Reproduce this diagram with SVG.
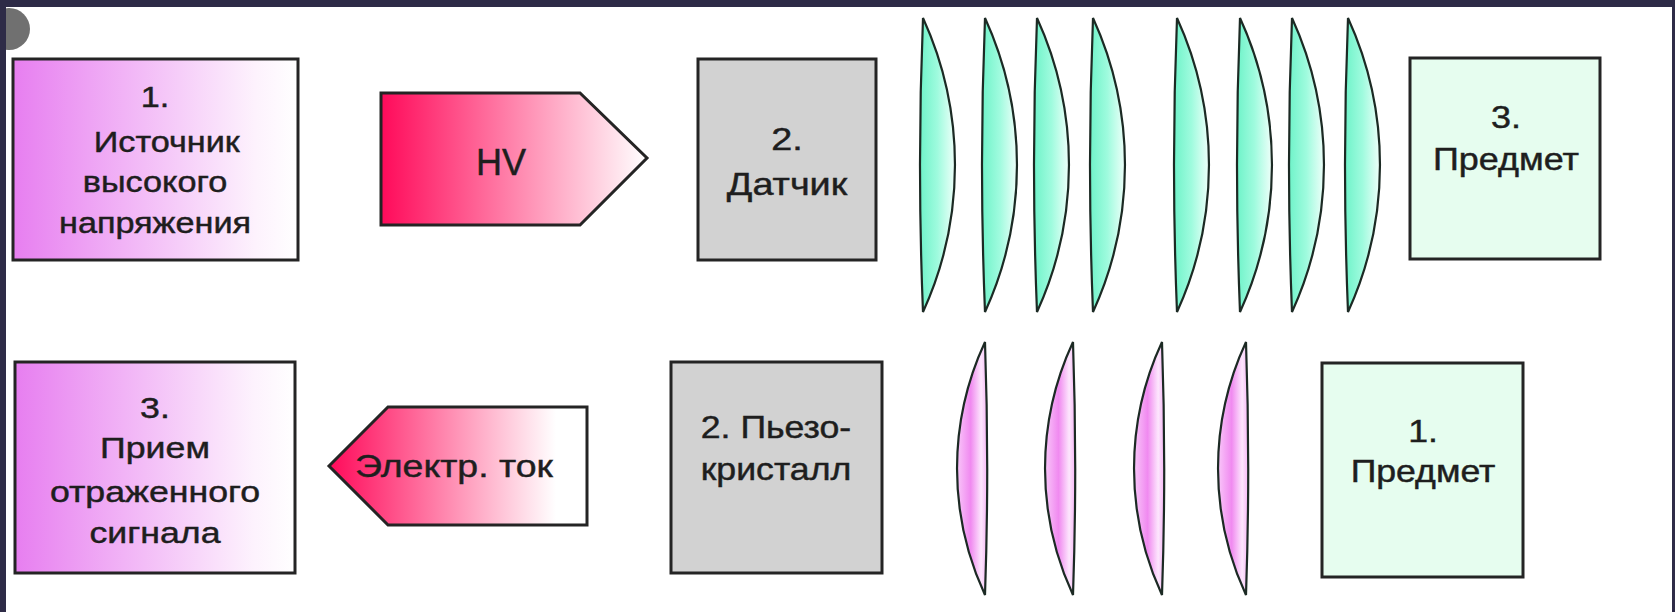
<svg xmlns="http://www.w3.org/2000/svg" xmlns:xlink="http://www.w3.org/1999/xlink" width="1675" height="612" viewBox="0 0 1675 612">
  <style>
    .box { stroke: #242424; stroke-width: 3; }
    .grey { fill: #d2d2d2; }
    .mint { fill: #e6fdef; }
    .lbl { font-family: "Liberation Sans", Arial, Helvetica, sans-serif; fill: #1e1e1e; stroke: #1e1e1e; stroke-width: 0.45; text-anchor: middle; }
    .wave { stroke: #1c2a24; stroke-width: 2.2; }
  </style>
  <defs>
    <linearGradient id="gViolet" x1="0" y1="0" x2="1" y2="0">
      <stop offset="0" stop-color="#e77ef0"/>
      <stop offset="0.85" stop-color="#fdf2fd"/>
      <stop offset="1" stop-color="#ffffff"/>
    </linearGradient>
    <linearGradient id="gCrimsonR" x1="0" y1="0" x2="1" y2="0">
      <stop offset="0" stop-color="#ff0a5a"/>
      <stop offset="1" stop-color="#ffffff"/>
    </linearGradient>
    <linearGradient id="gCrimsonL" x1="0" y1="0" x2="1" y2="0">
      <stop offset="0" stop-color="#ff0a5a"/>
      <stop offset="0.88" stop-color="#ffffff"/>
      <stop offset="1" stop-color="#ffffff"/>
    </linearGradient>
    <linearGradient id="gAqua" x1="0" y1="0" x2="1" y2="0">
      <stop offset="0" stop-color="#6ff3c9"/>
      <stop offset="0.5" stop-color="#9ffbde"/>
      <stop offset="1" stop-color="#effffa"/>
    </linearGradient>
    <linearGradient id="gPink" x1="0" y1="0" x2="1" y2="0">
      <stop offset="0" stop-color="#f9c6f9"/>
      <stop offset="0.45" stop-color="#f08af0"/>
      <stop offset="0.8" stop-color="#fde6fd"/>
      <stop offset="1" stop-color="#f6b6f6"/>
    </linearGradient>
    <!-- emitted wavefront: flat side left, convex side right -->
    <path id="waveOut" class="wave" fill="url(#gAqua)" d="M0,0 A354 354 0 0 1 0,294 A3600 3600 0 0 1 0,0 Z"/>
    <!-- reflected wavefront: flat side right, convex side left -->
    <path id="waveBack" class="wave" fill="url(#gPink)" d="M0,0 A300 300 0 0 0 0,253 A3600 3600 0 0 0 0,0 Z"/>
  </defs>

  <rect width="1675" height="612" fill="#ffffff"/>

  <!-- window frame -->
  <g id="frame">
    <circle cx="9" cy="29" r="21" fill="#707070"/>
    <rect x="0" y="0" width="1675" height="7" fill="#2e2b47"/>
    <rect x="0" y="0" width="6" height="612" fill="#2e2b47"/>
    <rect x="1672" y="0" width="3" height="612" fill="#2e2b47"/>
  </g>

  <!-- upper row: emission -->
  <g id="hv-source">
    <rect class="box" x="13" y="59" width="285" height="201" fill="url(#gViolet)"/>
    <g class="lbl" font-size="29" transform="translate(155 0) scale(1.18 1)">
      <text x="0" y="107">1.</text>
      <text x="10" y="152">Источник</text>
      <text x="0" y="192">высокого</text>
      <text x="0" y="233">напряжения</text>
    </g>
  </g>

  <g id="sensor">
    <rect class="box grey" x="698" y="59" width="178" height="201"/>
    <g class="lbl" font-size="31" transform="translate(787 0) scale(1.22 1)">
      <text x="0" y="150">2.</text>
      <text x="0" y="195">Датчик</text>
    </g>
  </g>

  <g id="waves-emitted">
    <use xlink:href="#waveOut" x="923" y="18"/>
    <use xlink:href="#waveOut" x="985" y="18"/>
    <use xlink:href="#waveOut" x="1037" y="18"/>
    <use xlink:href="#waveOut" x="1093" y="18"/>
    <use xlink:href="#waveOut" x="1177" y="18"/>
    <use xlink:href="#waveOut" x="1240" y="18"/>
    <use xlink:href="#waveOut" x="1292" y="18"/>
    <use xlink:href="#waveOut" x="1348" y="18"/>
  </g>

  <g id="object-top">
    <rect class="box mint" x="1410" y="58" width="190" height="201"/>
    <g class="lbl" font-size="31" transform="translate(1506 0) scale(1.16 1)">
      <text x="0" y="128">3.</text>
      <text x="0" y="170">Предмет</text>
    </g>
  </g>

  <!-- lower row: reception -->
  <g id="receiver">
    <rect class="box" x="15" y="362" width="280" height="211" fill="url(#gViolet)"/>
    <g class="lbl" font-size="30" transform="translate(155 0) scale(1.19 1)">
      <text x="0" y="418">3.</text>
      <text x="0" y="458">Прием</text>
      <text x="0" y="502">отраженного</text>
      <text x="0" y="543">сигнала</text>
    </g>
  </g>

  <g id="piezo">
    <rect class="box grey" x="671" y="362" width="211" height="211"/>
    <g class="lbl" font-size="31" transform="translate(776 0) scale(1.15 1)">
      <text x="0" y="438">2. Пьезо-</text>
      <text x="0" y="480">кристалл</text>
    </g>
  </g>

  <g id="waves-reflected">
    <use xlink:href="#waveBack" x="985" y="342"/>
    <use xlink:href="#waveBack" x="1073" y="342"/>
    <use xlink:href="#waveBack" x="1162" y="342"/>
    <use xlink:href="#waveBack" x="1246" y="342"/>
  </g>

  <g id="object-bottom">
    <rect class="box mint" x="1322" y="363" width="201" height="214"/>
    <g class="lbl" font-size="31" transform="translate(1423 0) scale(1.15 1)">
      <text x="0" y="442">1.</text>
      <text x="0" y="482">Предмет</text>
    </g>
  </g>

  <!-- block arrows carrying the electrical signals -->
  <g id="connectors">
    <g id="arrow-hv">
      <polygon class="box" points="381,93 580,93 647,158 580,225 381,225" fill="url(#gCrimsonR)"/>
      <text class="lbl" x="501" y="175" font-size="36">HV</text>
    </g>
    <g id="arrow-current">
      <polygon class="box" points="587,407 388,407 329,466 388,525 587,525" fill="url(#gCrimsonL)"/>
      <g class="lbl" font-size="32" transform="translate(454 0) scale(1.17 1)">
        <text x="0" y="477">Электр. ток</text>
      </g>
    </g>
  </g>
</svg>
